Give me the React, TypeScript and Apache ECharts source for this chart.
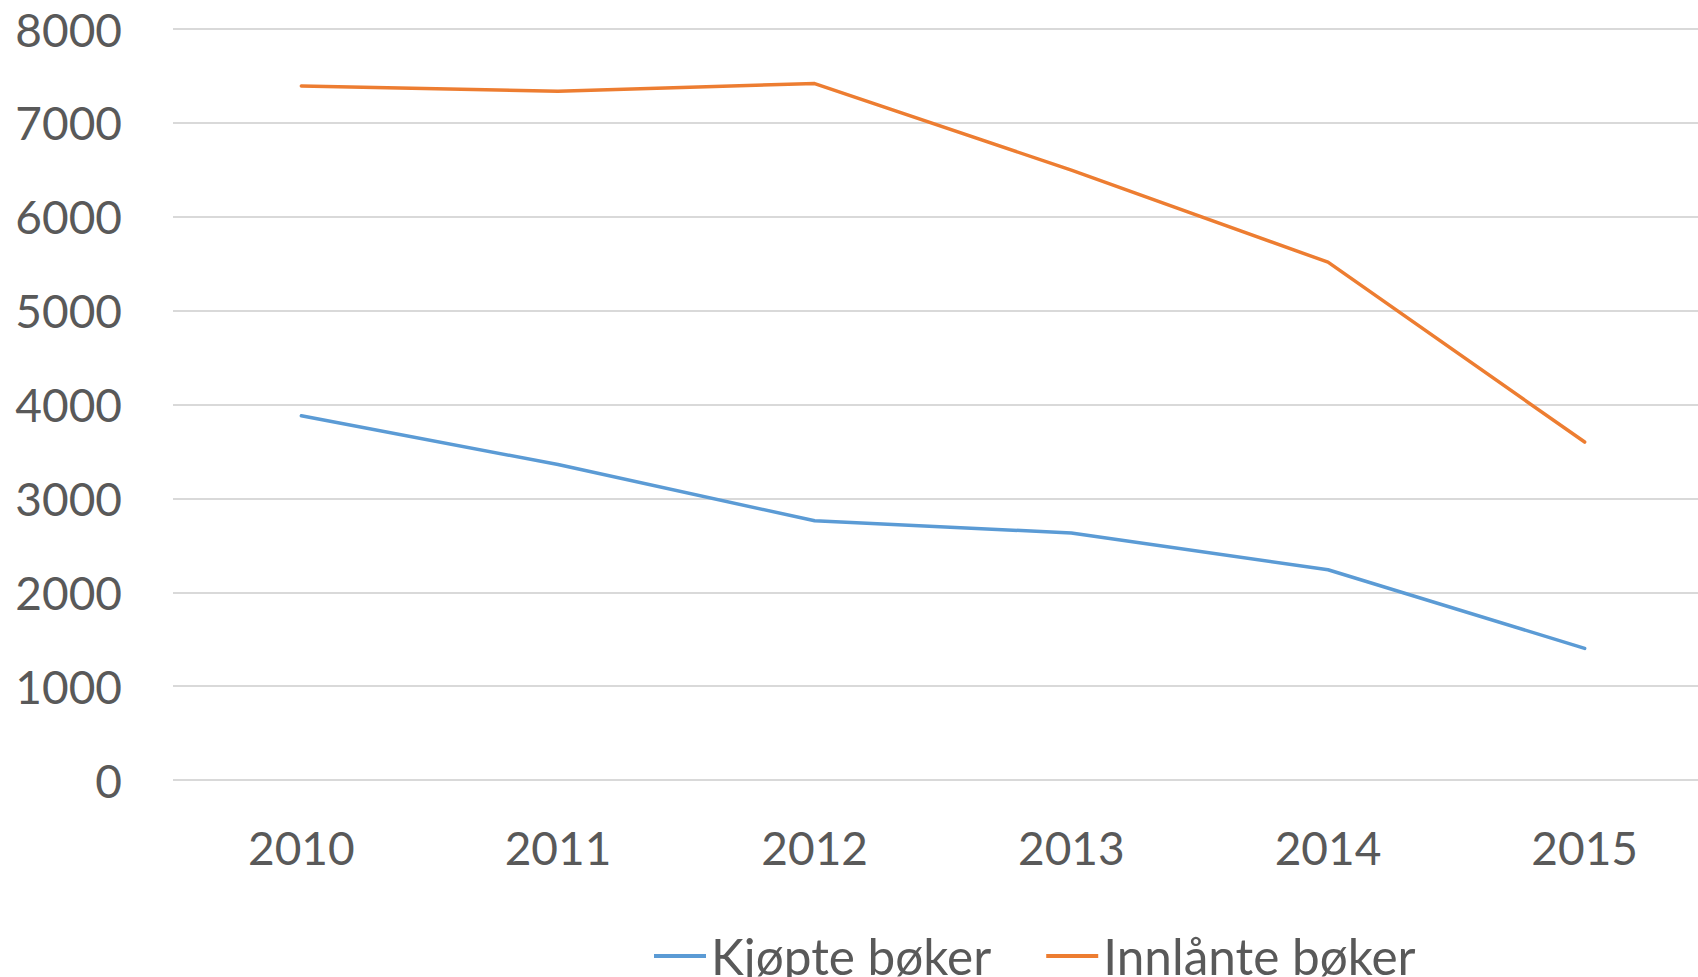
import React, { useEffect, useRef } from "react";
import * as echarts from "echarts";

const years = ["2010", "2011", "2012", "2013", "2014", "2015"];
const kjopte = [3880, 3360, 2761, 2632, 2240, 1402];
const innlante = [7392, 7338, 7419, 6496, 5516, 3600];
const seriesNames = ["Kjøpte bøker", "Innlånte bøker"];
const colors = ["#5b9bd5", "#ed7d31"];

export default function App() {
  const ref = useRef<HTMLDivElement>(null);
  useEffect(() => {
    if (!ref.current) return;
    const chart = echarts.init(ref.current, undefined, { renderer: "svg" });
    const font = "Lato, 'Open Sans', sans-serif";
    chart.setOption({
      animation: false,
      backgroundColor: "#ffffff",
      color: colors,
      textStyle: { fontFamily: font },
      grid: {
        left: 173,
        width: 1540,
        top: 29,
        bottom: 197,
        containLabel: false,
        outerBoundsMode: "none",
      },
      legend: {
        left: 654,
        top: 931,
        padding: 0,
        itemWidth: 52,
        itemHeight: 4,
        itemGap: 55,
        icon: "rect",
        textStyle: { fontSize: 49.5, color: "#595959", fontFamily: font },
        data: seriesNames,
      },
      xAxis: {
        type: "category",
        data: years,
        boundaryGap: true,
        axisLine: { show: false },
        axisTick: { show: false },
        splitLine: { show: false },
        axisLabel: { fontSize: 46, color: "#595959", margin: 44, fontFamily: font },
      },
      yAxis: {
        type: "value",
        min: 0,
        max: 8000,
        interval: 1000,
        axisLine: { show: false },
        axisTick: { show: false },
        splitLine: { lineStyle: { color: "#d9d9d9", width: 2 } },
        axisLabel: {
          fontSize: 46,
          color: "#595959",
          margin: 51,
          fontFamily: font,
          formatter: (v: number) => String(v),
        },
      },
      series: [
        {
          name: seriesNames[0],
          type: "line",
          data: kjopte,
          symbol: "none",
          lineStyle: { width: 3.5, color: colors[0], cap: "round", join: "round" },
          itemStyle: { color: colors[0] },
        },
        {
          name: seriesNames[1],
          type: "line",
          data: innlante,
          symbol: "none",
          lineStyle: { width: 3.5, color: colors[1], cap: "round", join: "round" },
          itemStyle: { color: colors[1] },
        },
      ],
    });
    return () => chart.dispose();
  }, []);
  return (
    <div
      ref={ref}
      style={{ position: "fixed", left: 0, top: 0, width: 1698, height: 977, background: "#fff" }}
    />
  );
}
